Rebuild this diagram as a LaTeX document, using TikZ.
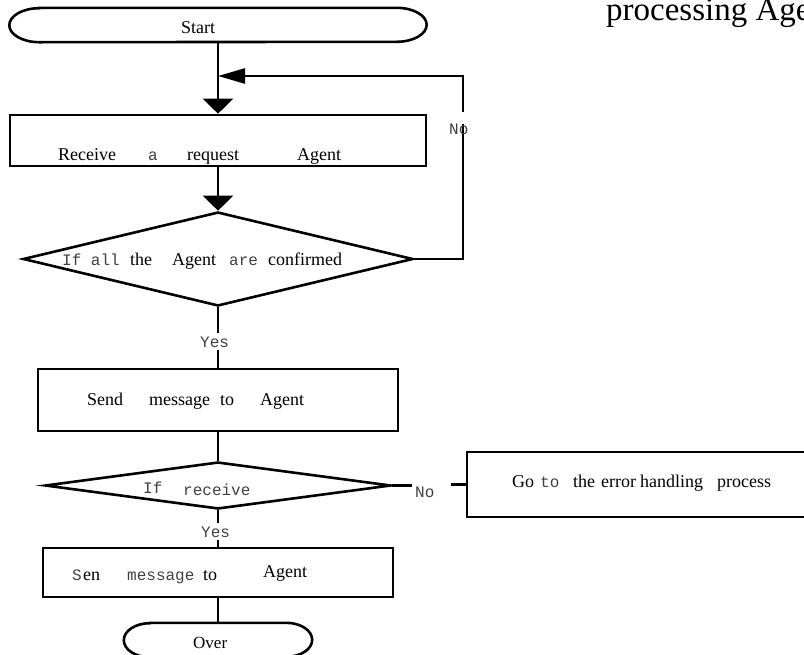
\documentclass[tikz,border=0pt]{standalone}
\usepackage{fontspec}
\setmainfont{Liberation Serif}
\newfontfamily\monof{Liberation Mono}
\usetikzlibrary{arrows.meta,shapes.geometric}
\begin{document}
\begin{tikzpicture}[x=1pt,y=-1pt,
  shapeline/.style={draw=black,line width=2.6pt},
  conn/.style={line width=2.6pt},
  boxnode/.style={shapeline,rectangle,inner sep=0pt},
  decision/.style={shapeline,diamond,inner sep=0pt},
  termnode/.style={inner sep=0pt},
  sw/.style={anchor=base west,inner sep=0pt,font=\fontsize{18}{20}\selectfont},
  mw/.style={anchor=base west,inner sep=0pt,font=\monof\fontsize{16}{18}\selectfont,text=black!75},
  lbl/.style={mw,fill=white,inner sep=3pt},
  downtip/.style={conn,-{Triangle[length=15pt,width=30pt]}},
  lefttip/.style={conn,-{Triangle[length=27pt,width=15pt]}},
]
\useasboundingbox (0,0) rectangle (804,654);

% ---- shapes ----
\node[termnode,minimum width=417pt,minimum height=34pt] (start) at (218,25) {};
\draw[shapeline] ([xshift=30pt]start.north west) -- ([xshift=-30pt]start.north east)
  arc[start angle=90,end angle=-90,x radius=30pt,y radius=17pt]
  -- ([xshift=30pt]start.south west)
  arc[start angle=270,end angle=90,x radius=30pt,y radius=17pt] -- cycle;

\node[boxnode,minimum width=416pt,minimum height=51pt] (recv) at (218,140.5) {};
\node[decision,minimum width=390pt,minimum height=94pt] (d1) at (218,259) {};
\node[boxnode,minimum width=360pt,minimum height=62pt] (send) at (218,400) {};
\node[decision,minimum width=346pt,minimum height=47pt] (d2) at (218,485.5) {};
\node[boxnode,minimum width=346pt,minimum height=65pt] (err) at (640,484.5) {};
\node[boxnode,minimum width=350pt,minimum height=49pt] (box4) at (218,572.5) {};

\node[termnode,minimum width=188pt,minimum height=34pt] (over) at (218,640) {};
\draw[shapeline] ([xshift=26pt]over.north west) -- ([xshift=-26pt]over.north east)
  arc[start angle=90,end angle=-90,x radius=26pt,y radius=17pt]
  -- ([xshift=26pt]over.south west)
  arc[start angle=270,end angle=90,x radius=26pt,y radius=17pt] -- cycle;

% ---- connectors ----
\coordinate (join) at (218,76);
\coordinate (lpA) at (463,76);
\coordinate (gapB) at (463,124);
\coordinate (gapT) at (463,112);

\draw[downtip] (start.south) -- (recv.north);
\draw[downtip] (recv.south) -- (d1.north);
\draw[conn] (d1.east) -- (d1.east -| lpA) -- (gapB);
\draw[lefttip] (gapT) -- (lpA) -- (join);
\draw[conn] (d1.south) -- (send.north);
\draw[conn] (send.south) -- (d2.north);
\draw[conn] (d2.south) -- (box4.north);
\draw[conn] (box4.south) -- (over.north);
\draw[conn] (d2.east) -- ++(20,0);
\draw[conn] (err.west) -- ++(-15,0);

% ---- labels on connectors ----
\node[mw] (nol1) at (449,134) {No};
\node[lbl] (yes1) at (197,347) {Yes};
\node[lbl] (yes2) at (198,537) {Yes};
\node[mw] (nol2) at (415,497) {No};

% ---- texts ----
\node[sw] (tstart) at (181,33) {Start};

\node[sw] (r1) at (58,160) {Receive};
\node[mw] (r2) at (148,160) {a};
\node[sw] (r3) at (187,160) {request};
\node[sw] (r4) at (297,160) {Agent};

\node[mw] (c1) at (62,265) {If all};
\node[sw] (c2) at (130,265) {the};
\node[sw] (c3) at (172,265) {Agent};
\node[mw] (c4) at (229,265) {are};
\node[sw] (c5) at (268,265) {confirmed};

\node[sw] (s1) at (87,405) {Send};
\node[sw] (s2) at (149,405) {message};
\node[sw] (s3) at (220,405) {to};
\node[sw] (s4) at (260,405) {Agent};

\node[mw] (i1) at (143,493) {If};
\node[mw] (i2) at (183,495) {receive};

\node[sw] (e1) at (512,487) {Go};
\node[mw] (e2) at (540,487) {to};
\node[sw] (e3) at (573,487) {the};
\node[sw] (e4) at (601,487) {error};
\node[sw] (e5) at (640,487) {handling};
\node[sw] (e6) at (717,487) {process};

\node[mw] (f1) at (72,580) {S};
\node[sw] (f2) at (83,580) {en};
\node[mw] (f3) at (127,580) {message};
\node[sw] (f4) at (203,580) {to};
\node[sw] (f5) at (263,577) {Agent};

\node[sw,font=\fontsize{17}{19}\selectfont] (tover) at (193,648) {Over};

\node[anchor=base west,inner sep=0pt,font=\fontsize{33}{35}\selectfont] (ptitle) at (606,20) {processing Agent};
\end{tikzpicture}
\end{document}
